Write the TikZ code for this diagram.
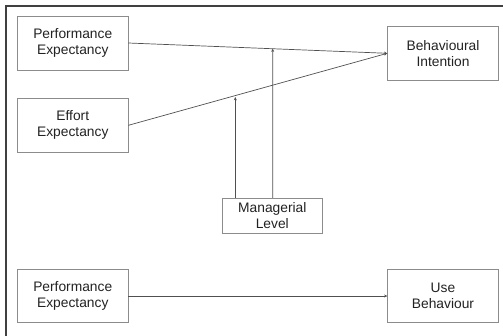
\documentclass[tikz,border=0pt]{standalone}
\usepackage{fontspec}
\setmainfont{Liberation Sans}
\usetikzlibrary{arrows.meta,calc}
\definecolor{framegray}{HTML}{404040}
\definecolor{boxgray}{HTML}{8C8C8C}
\definecolor{linegray}{HTML}{505050}
\definecolor{textgray}{HTML}{222222}
\tikzset{
  construct/.style={draw=boxgray, line width=0.8pt, align=center, inner sep=0pt,
    text=textgray, font=\fontsize{13.8}{15.8}\selectfont},
  link/.style={draw=linegray, line width=0.7pt, -{Stealth[length=3.2pt,width=3pt]}}
}
\begin{document}
\begin{tikzpicture}[x=1pt,y=-1pt]
  \useasboundingbox (0,0) rectangle (503,335);
  % outer frame (top and left edges)
  \draw[framegray, line width=1.3pt] (6,340) -- (6,6) -- (510,6);

  % constructs
  \node[construct, minimum width=110.5pt, minimum height=54pt] (pe1) at (72.75,43) {Performance\\Expectancy};
  \node[construct, minimum width=110.5pt, minimum height=53.3pt] (ee) at (72.75,125.3) {Effort\\Expectancy};
  \node[construct, minimum width=110.6pt, minimum height=53.3pt] (bi) at (443,53.3) {Behavioural\\Intention};
  \node[construct, minimum width=100pt, minimum height=35pt] (ml) at (272.3,215.8) {Managerial\\Level};
  \node[construct, minimum width=110.5pt, minimum height=53.4pt] (pe2) at (72.75,296) {Performance\\Expectancy};
  \node[construct, minimum width=110.6pt, minimum height=53.4pt] (ub) at (443,296) {Use\\Behaviour};

  % main paths
  \draw[link] (pe1.east) -- (bi.west);
  \draw[link] (ee.east) -- (bi.west);
  \draw[link] (pe2.east) -- (ub.west);

  % moderation paths from the managerial level
  \coordinate (mlA) at ($(ml.north west)+(13.4,0)$);
  \coordinate (mlB) at ($(ml.north)+(0.4,0)$);
  \coordinate (hitA) at (intersection of ee.east--bi.west and mlA--{$(mlA)+(0,-200)$});
  \coordinate (hitB) at (intersection of pe1.east--bi.west and mlB--{$(mlB)+(0,-200)$});
  \draw[link, shorten >=1.5pt] (mlA) -- (hitA);
  \draw[link] (mlB) -- (hitB);
\end{tikzpicture}
\end{document}
